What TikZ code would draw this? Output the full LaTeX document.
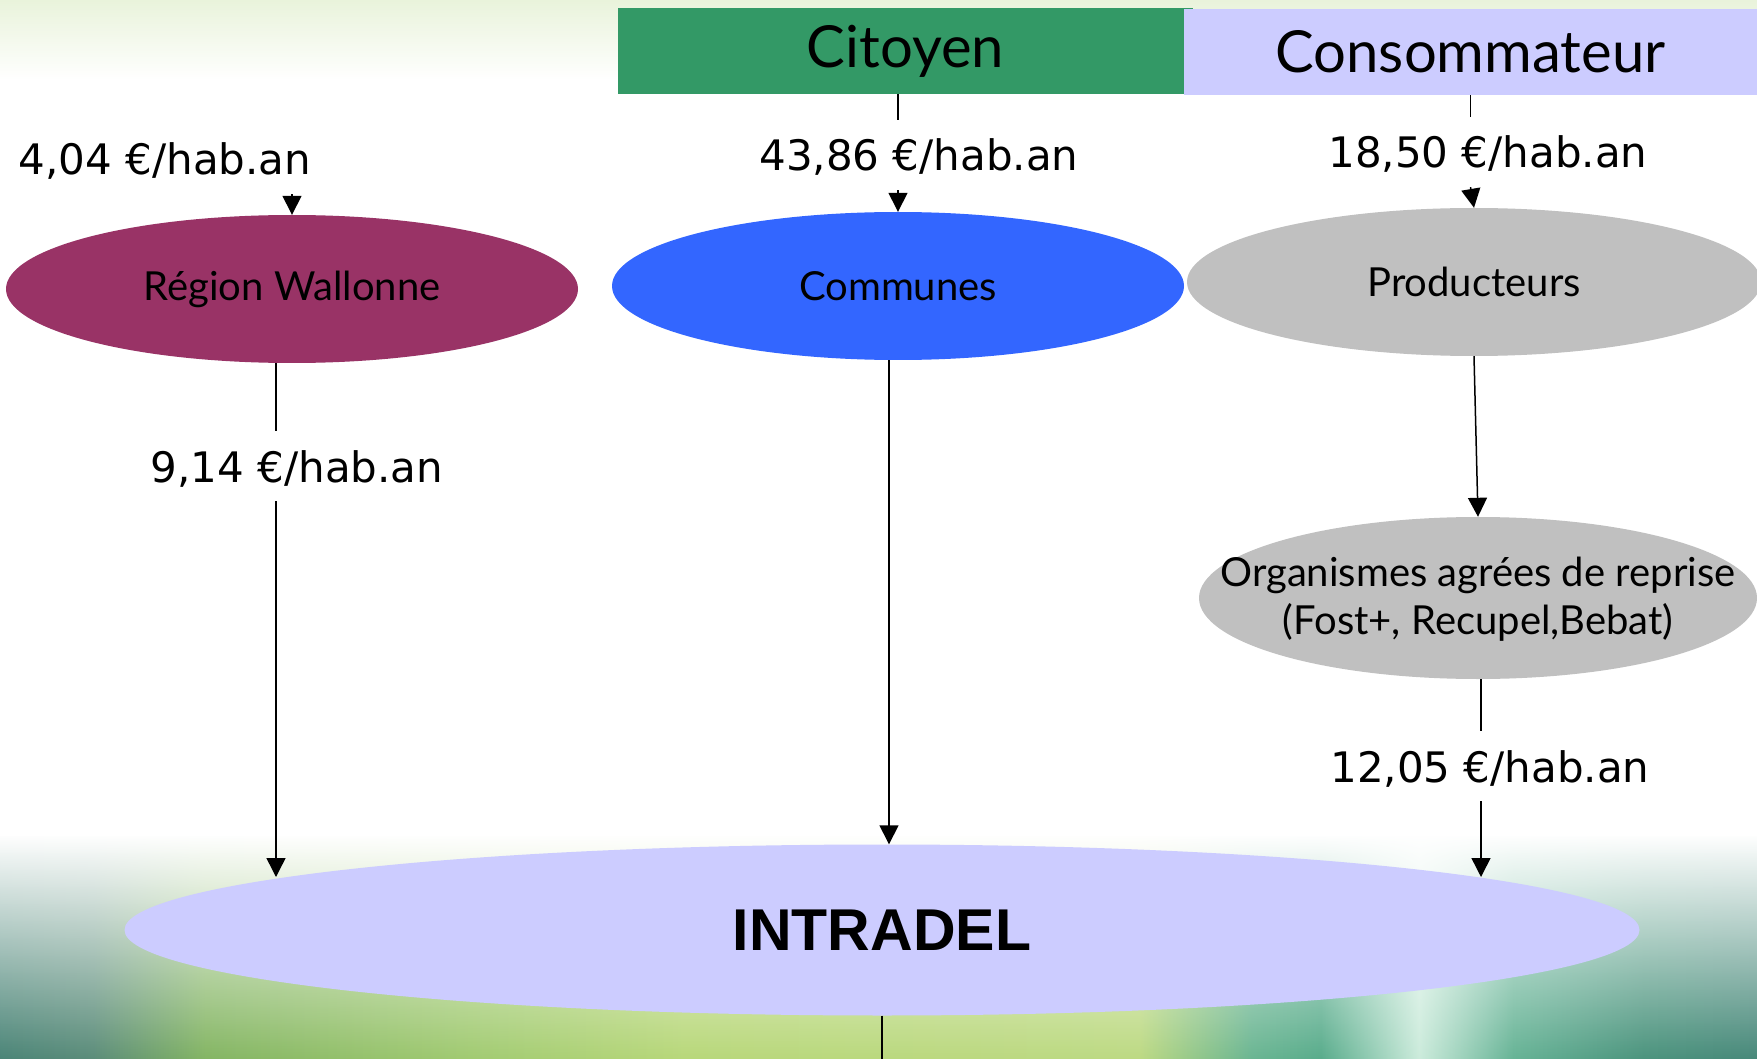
\documentclass[tikz,border=0pt]{standalone}
\usepackage{fontspec}
\usetikzlibrary{shapes.geometric,arrows.meta,fadings}
\newfontfamily\amtfam{DejaVu Sans}
\newfontfamily\latofam{Lato}
\newfontfamily\headfam{Liberation Sans}
\definecolor{citgreen}{HTML}{339966}
\definecolor{lav}{HTML}{CCCCFF}
\definecolor{wine}{HTML}{993366}
\definecolor{royal}{HTML}{3366FF}
\definecolor{silv}{HTML}{C0C0C0}
\definecolor{topg}{HTML}{E9F3DB}
\definecolor{bgA}{HTML}{3A7A6C}
\definecolor{bgB}{HTML}{4F8470}
\definecolor{bgC}{HTML}{7BB058}
\definecolor{bgD}{HTML}{9CC868}
\definecolor{bgE}{HTML}{B3D570}
\definecolor{bgF}{HTML}{B8D77A}
\definecolor{bgG}{HTML}{5FB08A}
\definecolor{bgH}{HTML}{4CA683}
\definecolor{bgI}{HTML}{C8EAD9}
\definecolor{bgJ}{HTML}{5BAE8E}
\definecolor{bgK}{HTML}{3E8C74}
\definecolor{bgL}{HTML}{3A8070}
\pgfdeclarehorizontalshading{bottomband}{100bp}{color(0bp)=(bgA); color(25.4bp)=(bgA); color(28.4bp)=(bgB); color(31.5bp)=(bgC); color(39.2bp)=(bgD); color(44.7bp)=(bgE); color(57.2bp)=(bgF); color(60.3bp)=(bgG); color(62.2bp)=(bgH); color(64.9bp)=(bgI); color(67.5bp)=(bgJ); color(71.1bp)=(bgK); color(74.1bp)=(bgL); color(100bp)=(bgL)}
\tikzset{
  amount/.style={font=\amtfam\fontsize{42pt}{50pt}\selectfont, text height=36pt, text depth=4pt, inner xsep=0pt, inner ysep=15pt},
  blob/.style={ellipse, inner sep=0pt, font=\latofam\fontsize{40pt}{48pt}\selectfont},
  headbox/.style={rectangle, inner sep=0pt, font=\latofam\fontsize{58pt}{64pt}\selectfont},
  flow/.style={line width=1.5pt, -{Triangle[length=19pt,width=19pt]}},
  plain/.style={line width=1.5pt}
}
\begin{document}
\begin{tikzpicture}[x=1pt,y=-1pt]
\useasboundingbox (0,0) rectangle (1757,1059);
% background
\fill[white] (0,0) rectangle (1757,1059);
\shade[top color=topg, bottom color=white] (0,0) rectangle (1757,80);
\shade[shading=bottomband, path fading=north] (-30,835) rectangle (1787,1075);

% header boxes
\node[headbox, fill=citgreen, minimum width=575pt, minimum height=86pt] (cit) at (905.5,51) {Citoyen};
\node[headbox, fill=lav, minimum width=573pt, minimum height=86pt] (cons) at (1470.5,52) {Consommateur};

% ellipses
\node[blob, fill=wine, minimum width=572pt, minimum height=148pt] (reg) at (292,289) {Région Wallonne};
\node[blob, fill=royal, minimum width=572pt, minimum height=148pt] (comm) at (898,286) {Communes};
\node[blob, fill=silv, minimum width=574pt, minimum height=148pt] (prod) at (1474,282) {Producteurs};
\node[blob, fill=silv, minimum width=558pt, minimum height=162pt] (org) at (1478,598) {};
\node[font=\latofam\fontsize{40pt}{48pt}\selectfont, align=center, inner sep=0pt] (orgtxt) at (1478,599) {Organismes agrées de reprise\\(Fost+, Recupel,Bebat)};
\node[ellipse, inner sep=0pt, fill=lav, minimum width=1515pt, minimum height=171pt, font=\headfam\bfseries\fontsize{59pt}{64pt}\selectfont] (intra) at (882,930) {INTRADEL};

% amount labels
\node[amount] (l1) at (165,159) {4,04 €/hab.an};
\node[amount] (l2) at (919,155) {43,86 €/hab.an};
\node[amount] (l3) at (1488,152) {18,50 €/hab.an};
\node[amount] (l4) at (297,466) {9,14 €/hab.an};
\node[amount] (l5) at (1490,766) {12,05 €/hab.an};

% helper coordinates
\coordinate (xR) at (276,0);
\coordinate (xC) at (889,0);
\coordinate (xO) at (1481,0);
\coordinate (tipR) at (276,877);
\coordinate (tipO) at (1481,877);
\coordinate (bot) at (882,1059);

% connectors
\draw[flow] (reg.north |- l1.south) -- (reg.north);
\draw[plain] (comm.north |- cit.south) -- (comm.north |- l2.north);
\draw[flow] (comm.north |- l2.south) -- (comm.north);
\draw[plain] (cons.south) -- (cons.south |- l3.north);
\draw[flow] (cons.south |- l3.south) -- (prod.north);
\draw[plain] (reg.south -| xR) -- (l4.north -| xR);
\draw[flow] (l4.south -| xR) -- (tipR);
\draw[flow] (comm.south -| xC) -- (intra.north -| xC);
\draw[flow] (prod.south) -- (org.north);
\draw[plain] (org.south -| xO) -- (l5.north -| xO);
\draw[flow] (l5.south -| xO) -- (tipO);
\draw[plain] (intra.south) -- (bot);
\end{tikzpicture}
\end{document}
